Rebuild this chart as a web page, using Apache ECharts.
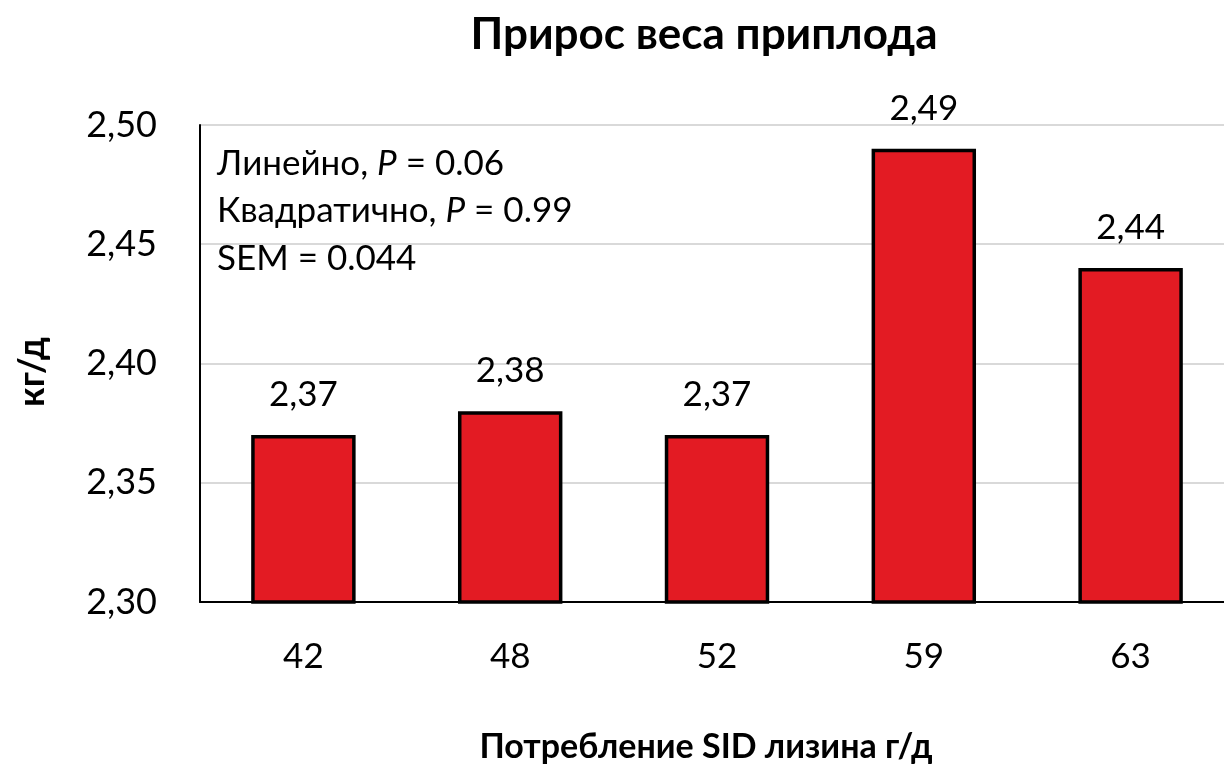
<!DOCTYPE html>
<html>
<head>
<meta charset="utf-8">
<script src="https://cdn.jsdelivr.net/npm/echarts@6/dist/echarts.min.js"></script>
<style>html,body{margin:0;padding:0;background:#fff}#c{width:1224px;height:767px}</style>
</head>
<body>
<div id="c"></div>
<script>
var categories = ['42', '48', '52', '59', '63'];
var values = [2.37, 2.38, 2.37, 2.49, 2.44];
var yTicks = [2.30, 2.35, 2.40, 2.45, 2.50];
var notes = ['Линейно, ', 'P', ' = 0.06', 'Квадратично, ', 'P', ' = 0.99', 'SEM = 0.044'];
var FONT = 'Lato, "Open Sans", sans-serif';
var chart = echarts.init(document.getElementById('c'));
function fmt(v){ return v.toFixed(2).replace('.', ','); }
chart.setOption({
  animation: false,
  title: {
    text: 'Прирос веса приплода',
    left: 699, top: 8, textAlign: 'center',
    textStyle: { fontFamily: FONT, fontSize: 44, fontWeight: 'bold', color: '#000' }
  },
  grid: { left: 200, width: 1034, top: 125, height: 477, outerBoundsMode: 'none', containLabel: false },
  xAxis: {
    type: 'category',
    data: categories,
    axisLine: { lineStyle: { color: '#000', width: 2 } },
    axisTick: { show: false },
    axisLabel: { fontFamily: FONT, fontSize: 35, color: '#000', margin: 37 }
  },
  yAxis: {
    type: 'value',
    min: 2.30, max: 2.50, interval: 0.05,
    axisLine: { show: true, lineStyle: { color: '#000', width: 2 } },
    axisTick: { show: false },
    splitLine: { lineStyle: { color: '#d9d9d9', width: 2 } },
    axisLabel: {
      fontFamily: FONT, fontSize: 36, color: '#000', margin: 43,
      formatter: function (v) {
        for (var i = 0; i < yTicks.length; i++) if (Math.abs(yTicks[i] - v) < 1e-6) return fmt(yTicks[i]);
        return '';
      }
    }
  },
  graphic: [{
    type: 'text',
    left: 217, top: 146,
    style: {
      text: '{n|' + notes[0] + '}{i|' + notes[1] + '}{n|' + notes[2] + '}\n{n|' + notes[3] + '}{i|' + notes[4] + '}{n|' + notes[5] + '}\n{n|' + notes[6] + '}',
      rich: {
        n: { fontFamily: FONT, fontSize: 35, color: '#000', lineHeight: 47.5 },
        i: { fontFamily: FONT, fontSize: 35, color: '#000', fontStyle: 'italic', lineHeight: 47.5 }
      }
    }
  }, {
    type: 'text',
    x: 706, y: 747,
    style: {
      text: 'Потребление SID лизина г/д',
      fontFamily: FONT, fontSize: 34, fontWeight: 'bold', fill: '#000',
      align: 'center', verticalAlign: 'middle'
    }
  }, {
    type: 'text',
    x: 32, y: 372,
    rotation: Math.PI / 2,
    style: {
      text: 'кг/д',
      fontFamily: FONT, fontSize: 36, fontWeight: 'bold', fill: '#000',
      align: 'center', verticalAlign: 'middle'
    }
  }],
  series: [{
    type: 'bar',
    data: values,
    barWidth: '50.5%',
    itemStyle: { color: '#E31B23', borderColor: '#000', borderWidth: 3.5 },
    label: {
      show: true, position: 'top', distance: 23,
      fontFamily: FONT, fontSize: 35, color: '#000',
      formatter: function (p) { return fmt(p.value); }
    }
  }]
});
</script>
</body>
</html>
